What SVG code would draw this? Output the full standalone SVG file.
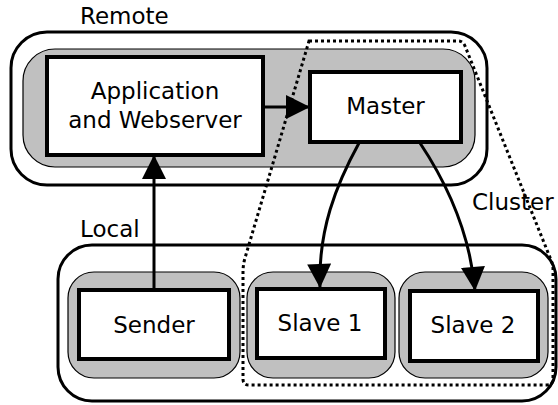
<svg xmlns="http://www.w3.org/2000/svg" width="558" height="405" viewBox="0 0 558 405">
  <defs>
    <style>
      .label { font-family: "DejaVu Sans", "Liberation Sans", sans-serif; font-size: 23px; fill: #000; }
      .outer { fill: #fff; stroke: #000; stroke-width: 3; }
      .pad { fill: #c0c0c0; stroke: #000; stroke-width: 1.2; }
      .node { fill: #fff; stroke: #000; stroke-width: 4; }
      .edge { fill: none; stroke: #000; stroke-width: 3; }
      .cluster { fill: none; stroke: #000; stroke-width: 3; stroke-dasharray: 3 3; }
    </style>
    <marker id="arrow" viewBox="0 0 10 10" refX="10" refY="5" markerWidth="8.3" markerHeight="8" markerUnits="strokeWidth" orient="auto">
      <path d="M0,0 L10,5 L0,10 Z" fill="#000"/>
    </marker>
  </defs>

  <!-- Remote host -->
  <g id="remote">
    <rect class="outer" x="11" y="32" width="476" height="153" rx="36"/>
    <rect class="pad" x="23" y="49" width="452" height="118" rx="32"/>
    <text class="label" x="80" y="24">Remote</text>
  </g>

  <!-- Local host -->
  <g id="local">
    <rect class="outer" x="58" y="245" width="498" height="156" rx="34"/>
    <text class="label" x="80" y="237">Local</text>
  </g>

  <g id="app">
    <rect class="node" x="47" y="57" width="216" height="98"/>
    <text class="label" x="155" y="99" text-anchor="middle">Application</text>
    <text class="label" x="155" y="128" text-anchor="middle">and Webserver</text>
  </g>

  <g id="master">
    <rect class="node" x="310" y="72" width="151" height="70"/>
    <text class="label" x="385.5" y="114" text-anchor="middle">Master</text>
  </g>

  <g id="sender">
    <rect class="pad" x="68" y="272" width="172" height="106" rx="26"/>
    <rect class="node" x="79" y="290" width="150" height="69"/>
    <text class="label" x="154" y="333" text-anchor="middle">Sender</text>
  </g>

  <g id="slave1">
    <rect class="pad" x="247" y="272" width="148" height="106" rx="26"/>
    <rect class="node" x="257" y="289" width="128" height="69"/>
    <text class="label" x="320" y="331" text-anchor="middle">Slave 1</text>
  </g>

  <g id="slave2">
    <rect class="pad" x="399" y="272" width="149" height="106" rx="26"/>
    <rect class="node" x="410" y="291" width="128" height="70"/>
    <text class="label" x="473" y="333" text-anchor="middle">Slave 2</text>
  </g>

  <!-- Cluster outline -->
  <g id="cluster">
    <path class="cluster" d="M309,41 L458,41 Q463,41 465,46 L553,265 L553,379 Q553,385 547,385 L249,385 Q243,385 243,379 L243,272 Q243,265 245,258 L309,41 Z"/>
    <text class="label" x="472" y="210">Cluster</text>
  </g>

  <!-- Connectors -->
  <g id="connectors">
    <path class="edge" d="M154,290 L154,155" marker-end="url(#arrow)"/>
    <path class="edge" d="M263,107 L310,107" marker-end="url(#arrow)"/>
    <path class="edge" d="M359,143 C336,185 318,230 320,288" marker-end="url(#arrow)"/>
    <path class="edge" d="M420,143 C446,182 470,232 475,291" marker-end="url(#arrow)"/>
  </g>
</svg>
